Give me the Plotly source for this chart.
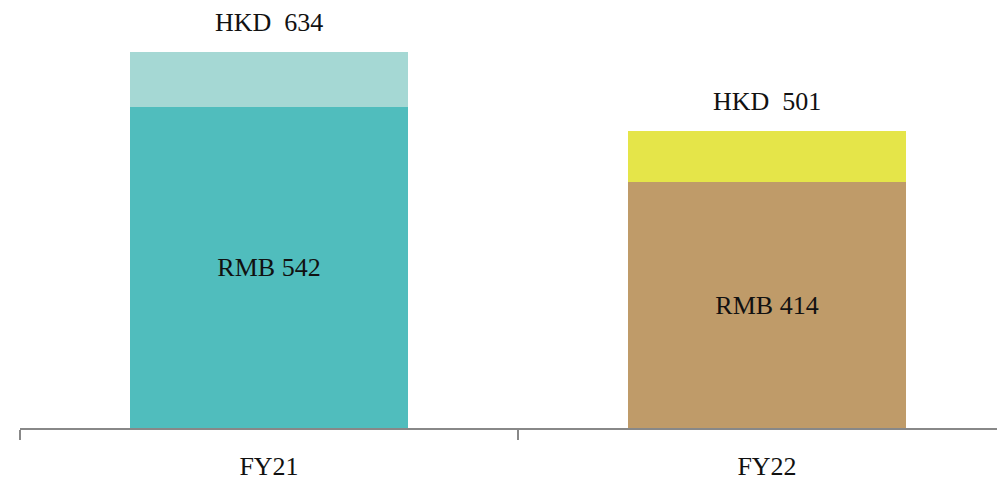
import plotly.graph_objects as go

categories = ["FY21", "FY22"]
rmb_values = [542, 414]
hkd_values = [634, 501]
rmb_labels = ["RMB 542", "RMB 414"]
hkd_labels = ["HKD  634", "HKD  501"]
base_colors = ["#50BDBD", "#BF9B69"]
top_colors = ["#A5D8D4", "#E5E549"]

xpos = list(range(len(categories)))
top_part = [h - r for h, r in zip(hkd_values, rmb_values)]

FONT = "Palatino Linotype, Book Antiqua, Palatino, Liberation Serif, serif"
FS = 26

fig = go.Figure()
fig.add_trace(go.Bar(
    x=xpos, y=rmb_values, marker=dict(color=base_colors, line=dict(width=0)),
    width=0.558, text=rmb_labels, textposition="inside", insidetextanchor="middle",
    textfont=dict(family=FONT, size=FS, color="#111111"), hoverinfo="skip",
))
fig.add_trace(go.Bar(
    x=xpos, y=top_part, marker=dict(color=top_colors, line=dict(width=0)),
    width=0.558, hoverinfo="skip",
))
for xp, h, lab in zip(xpos, hkd_values, hkd_labels):
    fig.add_annotation(x=xp, y=h, text=lab, showarrow=False, yanchor="bottom",
                       yshift=13, font=dict(family=FONT, size=FS, color="#111111"))

fig.update_layout(
    barmode="stack", showlegend=False, width=1005, height=472,
    margin=dict(l=12, r=0, t=0, b=52, autoexpand=False),
    plot_bgcolor="white", paper_bgcolor="white",
    xaxis=dict(
        range=[-0.5, -0.5 + 993 / 498], tickmode="array", tickvals=xpos,
        ticktext=categories, ticks="", showgrid=False, zeroline=False,
        showline=True, linecolor="#888888", linewidth=2, automargin=False,
        ticklabelstandoff=14,
        tickfont=dict(family=FONT, size=FS, color="#111111"),
        minor=dict(tickmode="array", tickvals=[-0.5, 0.5, 1.5], ticks="outside",
                   ticklen=10, tickwidth=2, tickcolor="#888888", showgrid=False),
    ),
    yaxis=dict(range=[0, 420 / (376 / 634)], visible=False, showgrid=False,
               automargin=False),
)
fig.write_html("out.html")
